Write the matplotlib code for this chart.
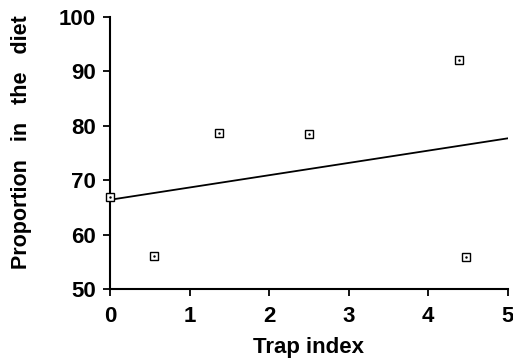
import matplotlib
matplotlib.use("Agg")
import matplotlib.pyplot as plt

trap_index = [0.0, 0.55, 1.37, 2.50, 4.38, 4.47]
proportion = [66.9, 56.1, 78.7, 78.5, 92.1, 55.9]
fit_x = [0.0, 5.0]
fit_y = [66.4, 77.7]
xticks = [0, 1, 2, 3, 4, 5]
yticks = [50, 60, 70, 80, 90, 100]

plt.rcParams['font.family'] = ['Liberation Sans', 'DejaVu Sans']

fig = plt.figure(figsize=(5.13, 3.59), dpi=100)
ax = fig.add_axes([0.2144, 0.195, 0.7756, 0.7576])

ax.plot(fit_x, fit_y, color='black', lw=1.3, zorder=2)
ax.plot(trap_index, proportion, linestyle='none', marker='s', ms=5.5,
        mfc='white', mec='black', mew=1.0, zorder=3, clip_on=False)
ax.plot(trap_index, proportion, linestyle='none', marker='.', ms=1.5,
        color='black', zorder=4, clip_on=False)

ax.set_xlim(0, 5)
ax.set_ylim(50, 100)
ax.set_xticks(xticks)
ax.set_yticks(yticks)
for s in ['top', 'right']:
    ax.spines[s].set_visible(False)
for s in ['left', 'bottom']:
    ax.spines[s].set_linewidth(1.5)
ax.tick_params(direction='out', length=5, width=1.3, labelsize=16)
ax.tick_params(axis='x', pad=7)
ax.tick_params(axis='y', pad=5)
for lbl in ax.get_xticklabels() + ax.get_yticklabels():
    lbl.set_fontweight('bold')

ax.set_xlabel('Trap index', fontsize=16, fontweight='bold')
ax.xaxis.set_label_coords(0.5, -0.175)
ax.set_ylabel('Proportion   in   the   diet', fontsize=15.5, fontweight='bold')
ax.yaxis.set_label_coords(-0.196, 0.54)

fig.savefig('out.png', dpi=100)
